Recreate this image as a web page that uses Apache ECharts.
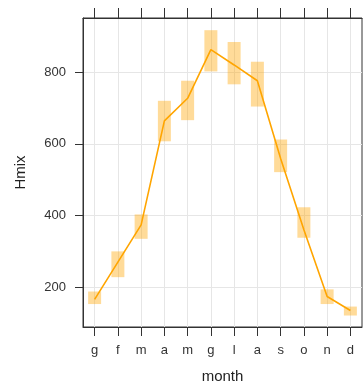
<!DOCTYPE html>
<html>
<head>
<meta charset="utf-8">
<script src="https://cdn.jsdelivr.net/npm/echarts@6/dist/echarts.min.js"></script>
<style>
  html, body { margin: 0; padding: 0; background: #fff; }
  #chart { width: 363px; height: 390px; }
</style>
</head>
<body>
<div id="chart"></div>
<script>
// months (Italian initials)
const months = ['g', 'f', 'm', 'a', 'm', 'g', 'l', 'a', 's', 'o', 'n', 'd'];
// mean Hmix per month
const hmix = [166, 270, 374, 664, 727, 863, 820, 776, 559, 360, 174, 135];
// interval bounds
const lower = [153, 228, 335, 607, 666, 802, 766, 704, 521, 338, 153, 121];
const upper = [188, 300, 403, 720, 776, 917, 884, 829, 612, 423, 194, 146];
const yTicks = [200, 400, 600, 800];

const boxData = months.map((m, i) => [i, lower[i], upper[i]]);

const chart = echarts.init(document.getElementById('chart'));

const axisColor = '#333';
const gridColor = '#e6e6e6';
const font = 'Liberation Sans, Arial, sans-serif';

chart.setOption({
  animation: false,
  grid: {
    left: 83, right: 1, top: 18, bottom: 63,
    show: true, borderColor: axisColor, borderWidth: 1, backgroundColor: 'transparent'
  },
  xAxis: [
    {
      type: 'category',
      data: months,
      boundaryGap: true,
      name: 'month',
      nameLocation: 'middle',
      nameGap: 42,
      nameTextStyle: { fontFamily: font, fontSize: 15, color: '#222' },
      axisLine: { show: true, lineStyle: { color: axisColor } },
      axisTick: { show: true, alignWithLabel: true, length: 9, lineStyle: { color: axisColor } },
      axisLabel: { fontFamily: font, fontSize: 13, color: '#333', margin: 17, interval: 0 },
      splitLine: { show: true, alignWithLabel: true, lineStyle: { color: gridColor } }
    },
    {
      type: 'category',
      data: months,
      position: 'top',
      boundaryGap: true,
      axisLine: { show: true, lineStyle: { color: axisColor } },
      axisTick: { show: true, alignWithLabel: true, length: 10, lineStyle: { color: axisColor } },
      axisLabel: { show: false },
      splitLine: { show: false }
    }
  ],
  yAxis: {
    type: 'value',
    min: 89,
    max: 951,
    name: 'Hmix',
    nameLocation: 'middle',
    nameGap: 55,
    nameTextStyle: { fontFamily: font, fontSize: 15, color: '#222' },
    axisLine: { show: true, lineStyle: { color: axisColor } },
    axisTick: { show: true, length: 8, customValues: yTicks, lineStyle: { color: axisColor } },
    axisLabel: { fontFamily: font, fontSize: 13, color: '#333', margin: 17, customValues: yTicks },
    splitLine: { show: true, lineStyle: { color: gridColor } }
  },
  series: [
    {
      type: 'custom',
      data: boxData,
      renderItem: function (params, api) {
        const i = api.value(0);
        const top = api.coord([i, api.value(2)]);
        const bot = api.coord([i, api.value(1)]);
        const w = 13;
        return {
          type: 'rect',
          shape: { x: top[0] - w / 2, y: top[1], width: w, height: bot[1] - top[1] },
          style: { fill: 'rgba(255,165,0,0.4)' }
        };
      },
      encode: { x: 0, y: [1, 2] },
      z: 2
    },
    {
      type: 'line',
      data: hmix,
      showSymbol: false,
      symbol: 'none',
      lineStyle: { color: '#FFA500', width: 1.6 },
      z: 3
    }
  ]
});
</script>
</body>
</html>
